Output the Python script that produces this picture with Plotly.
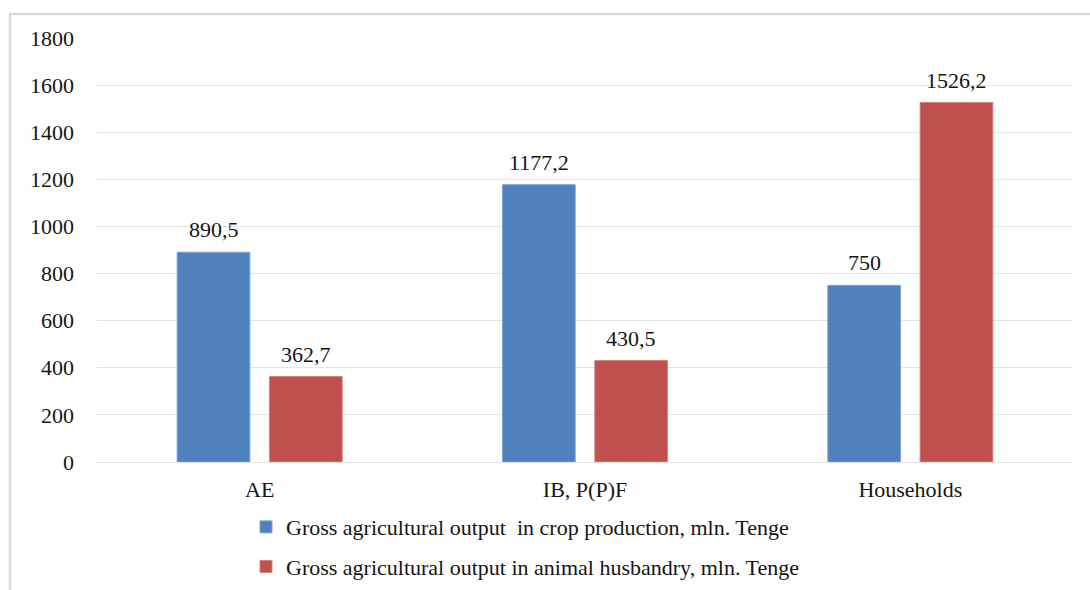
import plotly.graph_objects as go

# Categories and series values (mln. Tenge)
categories = ["AE", "IB, P(P)F", "Households"]
crop_values = [890.5, 1177.2, 750.0]
animal_values = [362.7, 430.5, 1526.2]
y_ticks = [0, 200, 400, 600, 800, 1000, 1200, 1400, 1600, 1800]

crop_name = "Gross agricultural output\u00a0 in crop production, mln. Tenge"
animal_name = "Gross agricultural output in animal husbandry, mln. Tenge"

BLUE = "#4F81BD"
RED = "#C0504D"
FONT = "Liberation Serif, Times New Roman, serif"
TEXT = "#151515"
SIZE = 22


def fmt(v):
    s = f"{v:g}"
    return s.replace(".", ",")


fig = go.Figure()
fig.add_trace(go.Bar(
    x=categories, y=crop_values, name=crop_name, legendgroup="crop",
    marker=dict(color=BLUE, line=dict(color="#7fa3d3", width=1)),
))
fig.add_trace(go.Bar(
    x=categories, y=animal_values, name=animal_name, legendgroup="animal",
    marker=dict(color=RED, line=dict(color="#d88280", width=1)),
))

# value labels above each bar
for vals, shift in ((crop_values, -46), (animal_values, 46)):
    for c, v in zip(categories, vals):
        fig.add_annotation(
            x=c, y=v, text=fmt(v), showarrow=False,
            xshift=shift, yshift=8, yanchor="bottom",
            font=dict(family=FONT, size=SIZE, color=TEXT),
        )

# outer chart frame
fig.add_shape(
    type="rect", xref="paper", yref="paper",
    x0=-0.0891, x1=1.03, y0=-0.33, y1=1.0566,
    line=dict(color="#d9d9d9", width=2.5), layer="below",
)

fig.update_layout(
    width=1090, height=590,
    margin=dict(l=97, r=17, t=38, b=128, autoexpand=False),
    paper_bgcolor="white", plot_bgcolor="white",
    barmode="group", bargap=0.4325, bargroupgap=0.212,
    font=dict(family=FONT, size=SIZE, color=TEXT),
    showlegend=True,
    legend=dict(
        orientation="v", x=(246 - 97) / 976, xanchor="left",
        y=-0.104, yanchor="top",
        font=dict(family=FONT, size=SIZE, color=TEXT),
        traceorder="grouped", tracegroupgap=8,
        bgcolor="rgba(0,0,0,0)",
    ),
    xaxis=dict(
        showgrid=False, showline=False, ticks="",
        tickfont=dict(family=FONT, size=SIZE, color=TEXT),
        ticklabelstandoff=12,
    ),
    yaxis=dict(
        range=[0, 1800], tickvals=y_ticks,
        showgrid=True, gridcolor="#e4e4e4", gridwidth=1,
        zeroline=True, zerolinecolor="#e0e0e0", zerolinewidth=1,
        showline=False, ticks="",
        tickfont=dict(family=FONT, size=SIZE, color=TEXT),
        ticklabelstandoff=22,
    ),
)

fig.write_html("out.html")
